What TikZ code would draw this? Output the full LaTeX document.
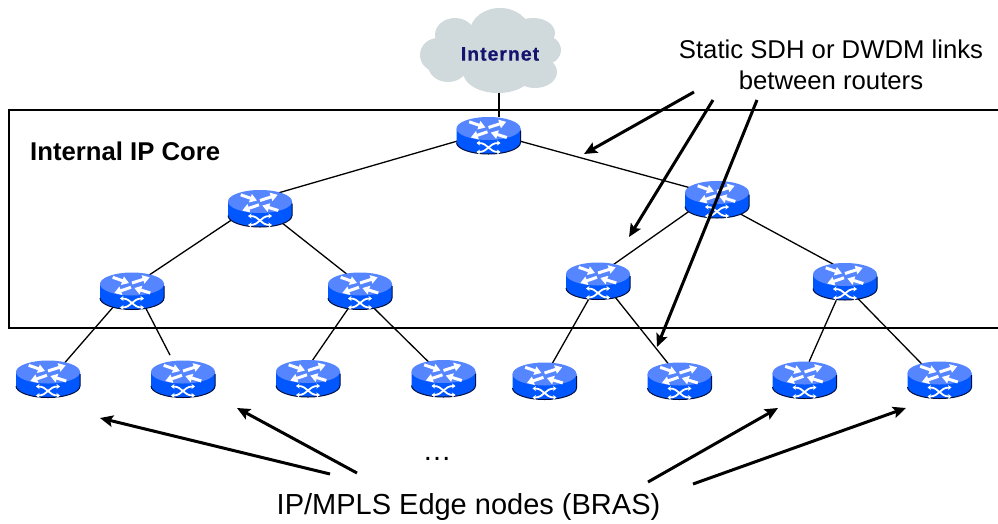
\documentclass[tikz,border=0pt]{standalone}
\usepackage{fontspec}
\setmainfont{Liberation Sans}
\newfontfamily\inetfont[LetterSpace=5,FakeBold=0.6]{Liberation Sans Bold}
\usetikzlibrary{arrows.meta,shapes.geometric}
\definecolor{cloudgray}{HTML}{D0D9DB}
\definecolor{navytext}{HTML}{14146E}
\definecolor{rtop}{HTML}{5585FF}
\definecolor{rbody}{HTML}{0057FF}
\definecolor{redge}{HTML}{000F40}
\tikzset{
 x=1pt,y=-1pt,
 rslot/.style={ellipse,minimum width=64pt,minimum height=37pt,inner sep=0pt,outer sep=0pt},
 link/.style={draw=black,line width=1.3pt},
 callout/.style={draw=black,line width=3pt,-{Stealth[length=13pt,width=11.5pt,inset=2.5pt]}},
 lbl/.style={inner sep=0pt,align=center,text=black},
 warrow/.style={draw=white,line width=3pt,-{Triangle[length=7pt,width=8.5pt]}},
 wx/.style={draw=white,line width=1.8pt,{Stealth[length=3.5pt,width=5pt]}-{Stealth[length=3.5pt,width=5pt]}},
 routerpic/.pic={
  \fill[rbody] (-32,-7) -- (-32,7) arc[start angle=180,end angle=360,x radius=32pt,y radius=11.5pt] -- (32,-7) -- cycle;
  \draw[redge,line width=1pt] (-32,7) arc[start angle=180,end angle=360,x radius=32pt,y radius=11.5pt] -- (32,-5);
  \fill[rtop] (0,-7) ellipse[x radius=32pt,y radius=11.5pt];
  \draw[warrow] (-19.3,-13.7) -- (-3,-8);
  \draw[warrow] (0,-8) -- (17.7,-13.7);
  \draw[warrow] (-1,-3.7) -- (-17.7,2);
  \draw[warrow] (18.3,2) -- (2.3,-3);
  \draw[wx] (-12,7.5) .. controls (0,7.5) and (0,16.5) .. (12,16.5);
  \draw[wx] (-12,16.5) .. controls (0,16.5) and (0,7.5) .. (12,7.5);
 }
}
\begin{document}
\begin{tikzpicture}
\useasboundingbox (0,0) rectangle (998,523);
\fill[white] (0,0) rectangle (998,523);
% cloud
\fill[cloudgray] (490,50) ellipse[x radius=50pt,y radius=25pt];
\fill[cloudgray] (500,32) ellipse[x radius=30pt,y radius=24pt];
\fill[cloudgray] (455,35) ellipse[x radius=20pt,y radius=17pt];
\fill[cloudgray] (533,33) ellipse[x radius=22pt,y radius=15pt];
\fill[cloudgray] (543,50) ellipse[x radius=18pt,y radius=15pt];
\fill[cloudgray] (535,72) ellipse[x radius=22pt,y radius=16pt];
\fill[cloudgray] (498,72) ellipse[x radius=35pt,y radius=21pt];
\fill[cloudgray] (448,65) ellipse[x radius=20pt,y radius=17pt];
\fill[cloudgray] (438,55) ellipse[x radius=18pt,y radius=17pt];
\fill[cloudgray] (510,52) ellipse[x radius=40pt,y radius=25pt];
\node[inner sep=0pt,font=\inetfont\fontsize{19.5}{22}\selectfont,text=navytext] (inet) at (500,54) {Internet};
\coordinate (cloudbase) at (499,93);
% core box
\draw[black,line width=1.3pt] (998,110) -- (9,110) -- (9,328) -- (998,328);
\node[lbl,font=\fontsize{25.7}{30}\selectfont\bfseries,anchor=west] (core) at (30,151) {Internal IP Core};
% router slots
\node[rslot] (r0) at (488.5,135.5) {};
\node[rslot] (a1) at (260,208.5) {};
\node[rslot] (a2) at (717,199.5) {};
\node[rslot] (b1) at (132,291) {};
\node[rslot] (b2) at (360,291) {};
\node[rslot] (b3) at (598,281) {};
\node[rslot] (b4) at (845,281.5) {};
\node[rslot] (c1) at (48,379) {};
\node[rslot] (c2) at (183,379) {};
\node[rslot] (c3) at (308,378.5) {};
\node[rslot] (c4) at (443.5,378.5) {};
\node[rslot] (c5) at (544.5,381) {};
\node[rslot] (c6) at (679.5,381) {};
\node[rslot] (c7) at (804.5,380) {};
\node[rslot] (c8) at (939.5,380) {};
% links
\draw[link] (cloudbase) -- (cloudbase |- r0.north);
\draw[link] (r0.190.6) -- (a1.41);
\draw[link] (r0.350) -- (a2.156);
\draw[link] (a1.201) -- (b1.43);
\draw[link] (a1.327) -- (b2.128);
\draw[link] (a2.202) -- (b3.47);
\draw[link] (a2.328) -- (b4.124);
\draw[link] (b1.220) -- (c1.44);
\draw[link,shorten >=7pt] (b1.309) -- (c2.119);
\draw[link] (b2.236) -- (c3.76);
\draw[link] (b2.309) -- (c4.132);
\draw[link] (b3.243) -- (c5.66);
\draw[link] (b3.317) -- (c6.123);
\draw[link] (b4.245) -- (c7.76);
\draw[link] (b4.307) -- (c8.138);
% routers
\foreach \n/\px/\py in {r0/488.5/135.5,a1/260/208.5,a2/717/199.5,b1/132/291,b2/360/291,b3/598/281,b4/845/281.5,c1/48/379,c2/183/379,c3/308/378.5,c4/443.5/378.5,c5/544.5/381,c6/679.5/381,c7/804.5/380,c8/939.5/380}
  \pic at (\px,\py) {routerpic};
% labels
\node[lbl,font=\fontsize{25.7}{31}\selectfont] (toplabel) at (831,65) {Static SDH or DWDM links\\between routers};
\node[lbl,font=\fontsize{29}{34}\selectfont] (botlabel) at (468.5,507) {IP/MPLS Edge nodes (BRAS)};
\node[lbl,font=\fontsize{29}{34}\selectfont] (dots) at (437,459) {…};
% callouts
\coordinate (s1) at (694,92); \coordinate (e1) at (584,154);
\coordinate (s2) at (713,100); \coordinate (e2) at (629,237);
\coordinate (s3) at (757,100); \coordinate (e3) at (657,347);
\coordinate (s4) at (330,474); \coordinate (e4) at (100,418);
\coordinate (s5) at (357,473); \coordinate (e5) at (237,408);
\coordinate (s6) at (648,482); \coordinate (e6) at (778,408);
\coordinate (s7) at (693,484); \coordinate (e7) at (906,408);
\draw[callout] (s1) -- (e1);
\draw[callout] (s2) -- (e2);
\draw[callout] (s3) -- (e3);
\draw[callout] (s4) -- (e4);
\draw[callout] (s5) -- (e5);
\draw[callout] (s6) -- (e6);
\draw[callout] (s7) -- (e7);
\end{tikzpicture}
\end{document}
